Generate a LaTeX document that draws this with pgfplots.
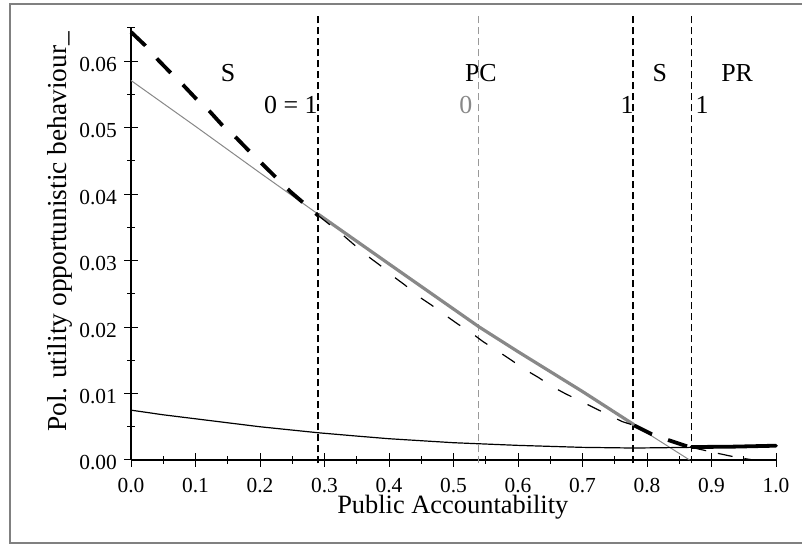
\documentclass[border=0pt]{standalone}
\usepackage{pgfplots}
\pgfplotsset{compat=1.18}
\usepackage{fontspec}
\setmainfont{Liberation Serif}
\definecolor{lgray}{HTML}{888888}
\definecolor{vgray}{HTML}{999999}
\begin{document}
\begin{tikzpicture}[x=1bp,y=1bp]
\draw[color=gray, line width=1.5bp] (10,2) rectangle (810,541);
\begin{axis}[
  at={(131bp,85bp)}, anchor=south west,
  scale only axis, width=645bp, height=432bp,
  xmin=0, xmax=1, ymin=0, ymax=0.065,
  enlargelimits=false, clip=false,
  axis lines=left,
  axis line style={-, line width=1.1bp},
  tick align=center,
  major tick length=14bp, minor tick length=8bp,
  every tick/.style={black, line width=1bp},
  xtick={0,0.1,0.2,0.3,0.4,0.5,0.6,0.7,0.8,0.9,1.0},
  minor xtick={0.05,0.15,0.25,0.35,0.45,0.55,0.65,0.75,0.85,0.95},
  ytick={0,0.01,0.02,0.03,0.04,0.05,0.06},
  minor ytick={0.005,0.015,0.025,0.035,0.045,0.055,0.065},
  scaled y ticks=false,
  xticklabel style={/pgf/number format/fixed, /pgf/number format/fixed zerofill, /pgf/number format/precision=1, /pgf/number format/assume math mode=true},
  yticklabel style={/pgf/number format/fixed, /pgf/number format/fixed zerofill, /pgf/number format/precision=2, /pgf/number format/assume math mode=true},
  tick label style={font=\fontsize{21.5}{24}\selectfont},
  xticklabel style={anchor=north, inner sep=0pt, yshift=-10.7bp},
  yticklabel style={anchor=east, inner sep=0pt, xshift=-7bp, yshift=-3bp},
]
% vertical dashed lines
\addplot[black, line width=1.6bp, dash pattern=on 7bp off 4bp] coordinates {(0.29,-0.0005) (0.29,0.0672)};
\addplot[vgray, line width=1.6bp, dash pattern=on 7bp off 4bp] coordinates {(0.539,-0.0005) (0.539,0.0672)};
\addplot[black, line width=1.6bp, dash pattern=on 7bp off 4bp] coordinates {(0.778,-0.0005) (0.778,0.0672)};
\addplot[black, line width=1.6bp, dash pattern=on 7bp off 4bp] coordinates {(0.8687,-0.0005) (0.8687,0.0672)};
% thin gray line
\addplot[lgray, line width=1bp] coordinates {
(0,0.0571) (0.1,0.0502) (0.2,0.0432) (0.29,0.0370) (0.4,0.0295) (0.54,0.0200)
(0.6,0.0163) (0.7,0.0103) (0.78,0.0053) (0.866,0.0)};
% thick gray segment
\addplot[lgray, line width=3.2bp] coordinates {
(0.29,0.0370) (0.4,0.0295) (0.54,0.0200) (0.6,0.0163) (0.7,0.0103) (0.78,0.0053)};
% thin black dashed curve
\addplot[black, line width=1.2bp, dash pattern=on 15bp off 18bp] coordinates {
(0.29,0.0368) (0.329,0.0338) (0.347,0.0323) (0.368,0.0306) (0.386,0.0293)
(0.407,0.0276) (0.425,0.0263) (0.446,0.0246) (0.466,0.0233) (0.487,0.0218)
(0.506,0.0205) (0.528,0.0191) (0.546,0.0178) (0.570,0.0163) (0.590,0.0150)
(0.611,0.0136) (0.632,0.0124) (0.652,0.0111) (0.673,0.0100) (0.694,0.0090)
(0.717,0.0079) (0.740,0.0068) (0.761,0.0058) (0.78,0.0052)};
\addplot[black, line width=1.2bp, dash pattern=on 15bp off 12bp] coordinates {
(0.869,0.0019) (0.905,0.0011) (0.929,0.0006) (0.955,0.00015) (0.965,0) (1.0,0)};
% thick black dashed segments
\addplot[black, line width=3.8bp, dash pattern=on 20bp off 17bp] coordinates {
(0,0.0644) (0.0217,0.0624) (0.040,0.0604) (0.063,0.0581) (0.081,0.0564)
(0.1034,0.0541) (0.1225,0.0524) (0.144,0.0501) (0.164,0.0484) (0.186,0.0462)
(0.204,0.0445) (0.228,0.0422) (0.248,0.0403) (0.272,0.0383) (0.29,0.0368)};
\addplot[black, line width=3.8bp, dash pattern=on 20bp off 17bp] coordinates {
(0.78,0.0052) (0.807,0.0039) (0.833,0.0030) (0.864,0.0020) (0.869,0.0019)};
% thin black solid curve
\addplot[black, line width=1.2bp] coordinates {
(0,0.0075) (0.05,0.0068) (0.1,0.0062) (0.15,0.0056) (0.2,0.0050) (0.25,0.0045)
(0.29,0.0041) (0.35,0.0036) (0.4,0.0032) (0.45,0.0029) (0.5,0.0026) (0.55,0.0024)
(0.6,0.0022) (0.7,0.0019) (0.78,0.0018) (0.869,0.0019)};
% thick black solid
\addplot[black, line width=3.8bp, line cap=round] coordinates {
(0.869,0.00195) (0.93,0.0020) (1.0,0.00215)};
% annotations
\node[anchor=base, inner sep=0pt, font=\fontsize{26}{28}\selectfont] at (axis cs:0.1504,0.0569) {S};
\node[anchor=base, inner sep=0pt, font=\fontsize{26}{28}\selectfont] at (axis cs:0.248,0.0521) {0 = 1};
\node[anchor=base, inner sep=0pt, font=\fontsize{26}{28}\selectfont] at (axis cs:0.5424,0.0569) {PC};
\node[anchor=base, inner sep=0pt, text=lgray, font=\fontsize{26}{28}\selectfont] at (axis cs:0.519,0.0521) {0};
\node[anchor=base, inner sep=0pt, font=\fontsize{26}{28}\selectfont] at (axis cs:0.769,0.0521) {1};
\node[anchor=base, inner sep=0pt, font=\fontsize{26}{28}\selectfont] at (axis cs:0.820,0.0569) {S};
\node[anchor=base, inner sep=0pt, font=\fontsize{26}{28}\selectfont] at (axis cs:0.8853,0.0521) {1};
\node[anchor=base, inner sep=0pt, font=\fontsize{26}{28}\selectfont] at (axis cs:0.9398,0.0569) {PR};
\end{axis}
% axis labels
\node[anchor=base, inner sep=0pt, font=\fontsize{26.5}{28}\selectfont] at (452.8,31.7) {Public Accountability};
\node[anchor=base, rotate=90, inner sep=0pt, font=\fontsize{27.5}{30}\selectfont] at (66.7,313.3) {Pol. utility opportunistic behaviour\_};
\pgfresetboundingbox
\useasboundingbox (0,0) rectangle (802,545);
\end{tikzpicture}
\end{document}
